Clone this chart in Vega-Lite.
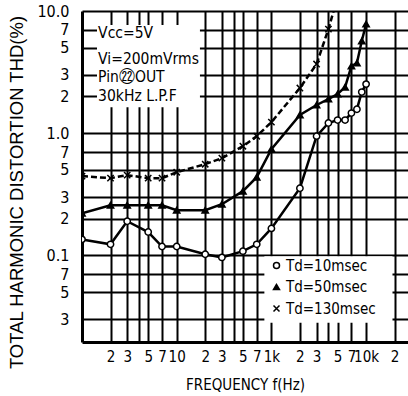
{
  "$schema": "https://vega.github.io/schema/vega-lite/v6.json",
  "width": 326,
  "height": 331,
  "autosize": "none",
  "padding": {"left": 82, "top": 11, "right": 0, "bottom": 54},
  "background": "white",
  "config": {
    "view": {"stroke": null},
    "font": "DejaVu Sans Condensed, Liberation Sans Narrow, Liberation Sans, sans-serif"
  },
  "datasets": {
    "curves": [
      {"series": "Td=10msec", "freq": 10, "thd": 0.135},
      {"series": "Td=10msec", "freq": 20, "thd": 0.123},
      {"series": "Td=10msec", "freq": 30, "thd": 0.19},
      {"series": "Td=10msec", "freq": 50, "thd": 0.155},
      {"series": "Td=10msec", "freq": 70, "thd": 0.118},
      {"series": "Td=10msec", "freq": 100, "thd": 0.118},
      {"series": "Td=10msec", "freq": 200, "thd": 0.102},
      {"series": "Td=10msec", "freq": 300, "thd": 0.096},
      {"series": "Td=10msec", "freq": 500, "thd": 0.108},
      {"series": "Td=10msec", "freq": 700, "thd": 0.123},
      {"series": "Td=10msec", "freq": 1000, "thd": 0.166},
      {"series": "Td=10msec", "freq": 2000, "thd": 0.354},
      {"series": "Td=10msec", "freq": 3000, "thd": 0.945},
      {"series": "Td=10msec", "freq": 4000, "thd": 1.21},
      {"series": "Td=10msec", "freq": 5000, "thd": 1.28},
      {"series": "Td=10msec", "freq": 6000, "thd": 1.28},
      {"series": "Td=10msec", "freq": 7000, "thd": 1.46},
      {"series": "Td=10msec", "freq": 8000, "thd": 1.57},
      {"series": "Td=10msec", "freq": 9000, "thd": 2.17},
      {"series": "Td=10msec", "freq": 10000, "thd": 2.52},
      {"series": "Td=50msec", "freq": 10, "thd": 0.221},
      {"series": "Td=50msec", "freq": 20, "thd": 0.257},
      {"series": "Td=50msec", "freq": 30, "thd": 0.257},
      {"series": "Td=50msec", "freq": 50, "thd": 0.257},
      {"series": "Td=50msec", "freq": 70, "thd": 0.257},
      {"series": "Td=50msec", "freq": 100, "thd": 0.234},
      {"series": "Td=50msec", "freq": 200, "thd": 0.234},
      {"series": "Td=50msec", "freq": 300, "thd": 0.262},
      {"series": "Td=50msec", "freq": 500, "thd": 0.335},
      {"series": "Td=50msec", "freq": 700, "thd": 0.436},
      {"series": "Td=50msec", "freq": 1000, "thd": 0.74},
      {"series": "Td=50msec", "freq": 2000, "thd": 1.41},
      {"series": "Td=50msec", "freq": 3000, "thd": 1.7},
      {"series": "Td=50msec", "freq": 4000, "thd": 1.9},
      {"series": "Td=50msec", "freq": 5000, "thd": 2.09},
      {"series": "Td=50msec", "freq": 6000, "thd": 2.38},
      {"series": "Td=50msec", "freq": 7000, "thd": 3.54},
      {"series": "Td=50msec", "freq": 8000, "thd": 3.75},
      {"series": "Td=50msec", "freq": 9000, "thd": 5.68},
      {"series": "Td=50msec", "freq": 10000, "thd": 7.82},
      {"series": "Td=130msec", "freq": 10, "thd": 0.445},
      {"series": "Td=130msec", "freq": 20, "thd": 0.428},
      {"series": "Td=130msec", "freq": 30, "thd": 0.453},
      {"series": "Td=130msec", "freq": 50, "thd": 0.428},
      {"series": "Td=130msec", "freq": 70, "thd": 0.428},
      {"series": "Td=130msec", "freq": 100, "thd": 0.479},
      {"series": "Td=130msec", "freq": 200, "thd": 0.557},
      {"series": "Td=130msec", "freq": 300, "thd": 0.624},
      {"series": "Td=130msec", "freq": 500, "thd": 0.782},
      {"series": "Td=130msec", "freq": 700, "thd": 0.944},
      {"series": "Td=130msec", "freq": 1000, "thd": 1.23},
      {"series": "Td=130msec", "freq": 2000, "thd": 2.34},
      {"series": "Td=130msec", "freq": 3000, "thd": 3.68},
      {"series": "Td=130msec", "freq": 4000, "thd": 7.11},
      {"series": "Td=130msec", "freq": 5000, "thd": 13}
    ],
    "boxes": [
      {"f1": 14.4, "f2": 176, "t1": 1.63, "t2": 7.68},
      {"f1": 843, "f2": 19000, "t1": 0.028, "t2": 0.098}
    ],
    "notes": [
      {"label": "Vcc=5V", "freq": 14.8, "thd": 6.55},
      {"label": "Vi=200mVrms", "freq": 14.8, "thd": 4.08},
      {"label": "Pin㉒OUT", "freq": 14.8, "thd": 2.9},
      {"label": "30kHz L.P.F", "freq": 14.8, "thd": 2.03}
    ]
  },
  "encoding": {
    "x": {
      "field": "freq", "type": "quantitative",
      "scale": {"type": "log", "domain": [10, 27700], "nice": false},
      "axis": {
        "values": [20, 30, 40, 50, 70, 100, 200, 300, 400, 500, 700, 1000, 2000, 3000, 4000, 5000, 7000, 10000, 20000],
        "labelExpr": "datum.value == 100 ? '10' : datum.value == 1000 ? '1k' : datum.value == 10000 ? '10k' : indexof([40, 400, 4000], datum.value) >= 0 ? '' : slice(toString(datum.value), 0, 1)",
        "grid": true, "gridColor": "black", "gridWidth": 2, "gridOpacity": 1,
        "ticks": false, "domain": true, "domainColor": "black", "domainWidth": 3,
        "labelFontSize": 15, "labelColor": "black",
        "labelPadding": 7, "labelBaseline": "top", "labelOverlap": false, "labelFlush": false,
        "title": "FREQUENCY f(Hz)", "titleFontSize": 15,
        "titleFontWeight": "normal", "titleColor": "black",
        "titleX": 163, "titleY": 42, "titleBaseline": "middle", "titleAlign": "center"
      }
    },
    "y": {
      "field": "thd", "type": "quantitative",
      "scale": {"type": "log", "domain": [0.0195, 10], "nice": false},
      "axis": {
        "values": [0.03, 0.05, 0.07, 0.1, 0.2, 0.3, 0.5, 0.7, 1, 2, 3, 5, 7, 10],
        "labelExpr": "datum.value == 10 ? '10.0' : datum.value == 1 ? '1.0' : datum.value == 0.1 ? '0.1' : slice(toString(datum.value), -1)",
        "grid": true, "gridColor": "black", "gridWidth": 2, "gridOpacity": 1,
        "ticks": false, "domain": true, "domainColor": "black", "domainWidth": 3,
        "labelFontSize": 16, "labelColor": "black",
        "labelPadding": 13, "labelOverlap": false, "labelFlush": false,
        "title": "TOTAL HARMONIC DISTORTION THD(%)", "titleFont": "Liberation Sans", "titleFontSize": 18.5,
        "titleFontWeight": "normal", "titleColor": "black",
        "titleX": -66, "titleY": 181, "titleBaseline": "middle", "titleAlign": "center", "titleAngle": -90
      }
    }
  },
  "layer": [
    {
      "data": {"name": "boxes"},
      "mark": {"type": "rect", "fill": "white", "stroke": null},
      "encoding": {
        "x": {"field": "f1", "type": "quantitative"},
        "x2": {"field": "f2"},
        "y": {"field": "t1", "type": "quantitative"},
        "y2": {"field": "t2"}
      }
    },
    {
      "data": {"name": "boxes"},
      "mark": {"type": "rule", "color": "black", "strokeWidth": 3},
      "encoding": {"y": {"datum": 10}}
    },
    {
      "data": {"name": "curves"},
      "transform": [{"filter": "datum.series != 'Td=130msec'"}],
      "mark": {"type": "line", "color": "black", "strokeWidth": 2.5, "clip": true},
      "encoding": {
        "detail": {"field": "series"}
      }
    },
    {
      "data": {"name": "curves"},
      "transform": [{"filter": "datum.series == 'Td=130msec'"}],
      "mark": {"type": "line", "color": "black", "strokeWidth": 2.5, "strokeDash": [6, 3], "clip": true},
      "encoding": {}
    },
    {
      "data": {"name": "curves"},
      "mark": {"type": "point", "filled": true, "strokeWidth": 1.5, "opacity": 1, "size": 40, "clip": true},
      "encoding": {
        "shape": {
          "field": "series", "type": "nominal",
          "scale": {"domain": ["Td=10msec", "Td=50msec", "Td=130msec"], "range": ["circle", "triangle-up", "M-1,-1L1,1M1,-1L-1,1"]},
          "legend": {
            "orient": "none", "legendX": 187, "legendY": 247, "title": null,
            "labelFontSize": 15, "labelColor": "black",
            "labelOffset": 2, "rowPadding": 5.5, "padding": 0,
            "symbolStrokeWidth": 1.5, "symbolSize": 36
          }
        },
        "fill": {
          "field": "series", "type": "nominal",
          "scale": {"domain": ["Td=10msec", "Td=50msec", "Td=130msec"], "range": ["white", "black", "black"]},
          "legend": {
            "orient": "none", "legendX": 187, "legendY": 247, "title": null,
            "labelFontSize": 15, "labelColor": "black",
            "labelOffset": 2, "rowPadding": 5.5, "padding": 0,
            "symbolStrokeWidth": 1.5, "symbolSize": 36
          }
        },
        "stroke": {
          "field": "series", "type": "nominal",
          "scale": {"domain": ["Td=10msec", "Td=50msec", "Td=130msec"], "range": ["black", "black", "black"]},
          "legend": {
            "orient": "none", "legendX": 187, "legendY": 247, "title": null,
            "labelFontSize": 15, "labelColor": "black",
            "labelOffset": 2, "rowPadding": 5.5, "padding": 0,
            "symbolStrokeWidth": 1.5, "symbolSize": 36
          }
        }
      }
    },
    {
      "data": {"name": "notes"},
      "mark": {"type": "text", "align": "left", "baseline": "middle", "fontSize": 15.5, "color": "black"},
      "encoding": {
        "text": {"field": "label"}
      }
    }
  ]
}
